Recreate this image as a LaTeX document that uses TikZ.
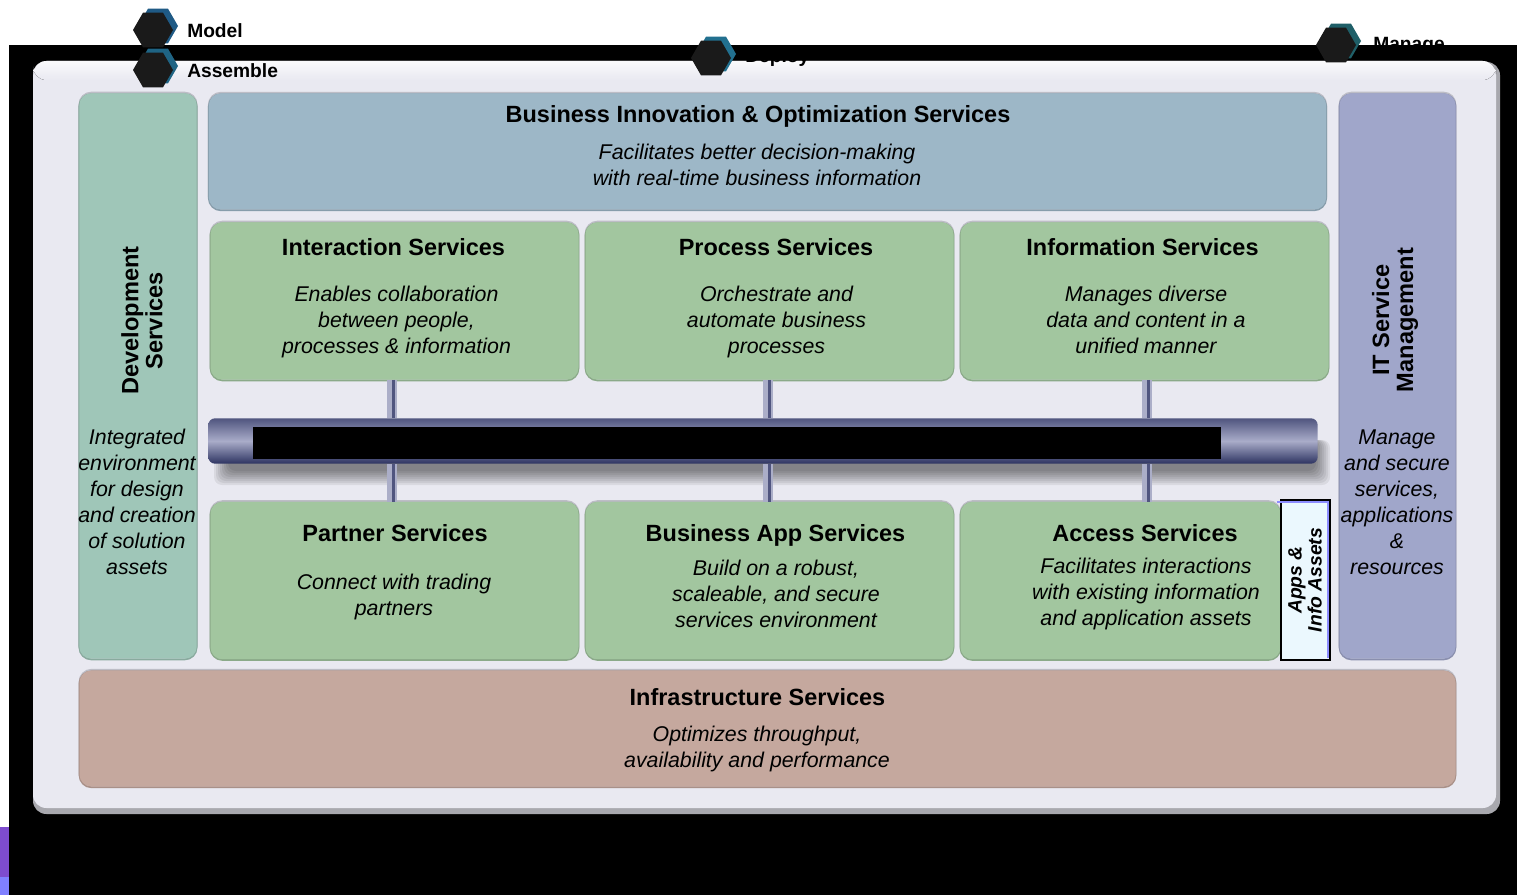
\documentclass[tikz,border=0pt]{standalone}
\usepackage{fontspec}
\setmainfont{Liberation Sans}
\usetikzlibrary{shapes.geometric}
\definecolor{panelfill}{HTML}{E9E9F1}
\definecolor{paneledge}{HTML}{A8A8AE}
\definecolor{boxedge}{HTML}{BDBDC6}
\definecolor{devfill}{HTML}{9FC6B8}
\definecolor{bizfill}{HTML}{9DB7C7}
\definecolor{itfill}{HTML}{A0A6CA}
\definecolor{svcfill}{HTML}{A2C69F}
\definecolor{infrafill}{HTML}{C5A89E}
\definecolor{hexdark}{HTML}{1A1A1A}
\definecolor{pipedark}{HTML}{50557F}
\definecolor{pipemid}{HTML}{A9ACC9}
\definecolor{pipelow}{HTML}{2D3361}
\definecolor{pipepale}{HTML}{ABAEC8}
\tikzset{
	svcbox/.style={rounded corners=9pt, inner sep=0pt, fill=#1,
		preaction={draw=boxedge, line width=1.3pt, transform canvas={yshift=0.6pt}},
		preaction={draw=#1!86!black, line width=1.3pt, transform canvas={yshift=-0.6pt}},
		minimum width=276pt, minimum height=118pt},
	svcbox/.default=svcfill,
	headtext/.style={font=\fontsize{17.6}{20}\selectfont\bfseries, inner sep=0pt, text height=15.6pt, text depth=3.6pt},
	desctext/.style={font=\fontsize{16}{19.5}\selectfont\itshape, align=center, inner sep=0pt},
	sidetext/.style={font=\fontsize{17.7}{18}\selectfont\bfseries, align=center, rotate=90, inner sep=0pt},
	hexagon/.style={regular polygon, regular polygon sides=6, minimum size=30pt, inner sep=0pt},
	hexlabel/.style={font=\fontsize{14.4}{18}\selectfont\bfseries, anchor=west, inner sep=0pt},
	pipeline/.style={line width=7pt, draw=pipepale},
	pipecore/.style={line width=2.2pt, draw=pipedark, transform canvas={xshift=0.9pt}},
}
\begin{document}
\begin{tikzpicture}[x=0.75pt, y=-0.75pt]
	\useasboundingbox (0,0) rectangle (1517,895);
	% page backdrop
	\fill[white] (0,0) rectangle (1517,895);
	\fill[black] (9,45) rectangle (1517,895);
	\fill[violet!55!blue!70!white] (0,827) rectangle (9,877);
	\fill[blue!50!white] (0,877) rectangle (9,895);

	% outer panel
	\fill[paneledge, rounded corners=10pt] (33,62) rectangle (1500,814);
	\fill[panelfill, rounded corners=10pt] (33,61) rectangle (1496,808);
	\fill[top color=white!75!panelfill, bottom color=panelfill, rounded corners=10pt] (33,61) rectangle (1496,80);

	% top labels sit over the black band
	\node[hexlabel] (modellabel) at (187,31) {Model};
	\node[hexlabel] (assemblelabel) at (187,71) {Assemble};
	\node[hexlabel] (deploylabel) at (745,58) {Deploy};
	\node[hexlabel] (managelabel) at (1373,46) {Manage};
	\foreach \hexname/\hx/\hy/\hexcol in {model/153/30/1F5A85, assemble/153/70/1F6484, deploy/711/58/22708F, manage/1336/45/1F5F68}
	{
		\definecolor{hexedge}{HTML}{\hexcol}
		\node[hexagon, fill=hexedge] (\hexname back) at (\hx+5,\hy-4) {};
		\node[hexagon, fill=hexdark] (\hexname) at (\hx,\hy) {};
	}

	% side and wide boxes
	\node[svcbox=devfill, minimum width=88pt, minimum height=424pt] (dev) at (138,376) {};
	\node[svcbox=itfill, minimum width=87pt, minimum height=424pt] (it) at (1397.5,376) {};
	\node[svcbox=bizfill, minimum width=838pt, minimum height=87pt] (biz) at (767.5,151.5) {};
	\node[svcbox=infrafill, minimum width=1032pt, minimum height=87pt] (infra) at (767.5,728.5) {};

	% green service boxes
	\node[svcbox] (interaction) at (394.5,301) {};
	\node[svcbox] (process) at (769.5,301) {};
	\node[svcbox] (information) at (1144.5,301) {};
	\node[svcbox] (partner) at (394.5,580.5) {};
	\node[svcbox] (businessapp) at (769.5,580.5) {};
	\node[svcbox, minimum width=240pt] (access) at (1120.5,580.5) {};

	% bus and its shadow
	\foreach \s in {0,2,...,14}
		\fill[black, opacity=0.065, rounded corners=6pt] (214+\s,440) rectangle (1330-\s,485-\s);
	\node[rounded corners=5pt, minimum width=832pt, minimum height=34pt, inner sep=0pt,
		top color=pipedark, bottom color=pipelow, middle color=pipemid] (bus) at (763,441) {};
	\node[fill=black, minimum width=726pt, minimum height=24pt, inner sep=0pt] (busmask) at (737,443) {};

	% stubs from the boxes to the bus
	\foreach \upper/\lower/\off in {interaction/partner/-2.5, process/businessapp/-1.5, information/access/2.5}
	{
		\coordinate (\upper stub) at ([xshift=\off*0.75pt]\upper.south);
		\draw[pipeline] (\upper stub) -- (\upper stub |- bus.north);
		\draw[pipecore] (\upper stub) -- (\upper stub |- bus.north);
		\draw[pipeline] (\upper stub |- bus.south) -- (\upper stub |- partner.north);
		\draw[pipecore] (\upper stub |- bus.south) -- (\upper stub |- partner.north);
	}

	% assets tab
	\node[fill=white!92!cyan, draw=black, line width=1.5pt, inner sep=0pt, minimum width=37pt, minimum height=120pt] (assets) at (1305.5,580) {};
	\draw[blue!45!white, line width=1.2pt] ([xshift=-2.2pt,yshift=-2.2pt]assets.north west) -- ([xshift=-2.2pt,yshift=-2.2pt]assets.north east)
		-- ([xshift=-2.2pt,yshift=2.2pt]assets.south east);

	% headings
	\node[headtext] (bizhead) at (758,115) {Business Innovation \& Optimization Services};
	\node[headtext] (interactionhead) at (393.5,247) {Interaction Services};
	\node[headtext] (processhead) at (776,247) {Process Services};
	\node[headtext] (informationhead) at (1142.5,247) {Information Services};
	\node[headtext] (partnerhead) at (395,533) {Partner Services};
	\node[headtext] (businessapphead) at (775.5,533) {Business App Services};
	\node[headtext] (accesshead) at (1145,533) {Access Services};
	\node[headtext] (infrahead) at (757.5,697) {Infrastructure Services};

	% descriptions
	\node[desctext] (bizdesc) at (757,165) {Facilitates better decision-making\\with real-time business information};
	\node[desctext] (interactiondesc) at (396.5,322) {Enables collaboration\\between people,\\processes \& information};
	\node[desctext] (processdesc) at (776.5,322) {Orchestrate and\\automate business\\processes};
	\node[desctext] (informationdesc) at (1146,320) {Manages diverse\\data and content in a\\unified manner};
	\node[desctext] (partnerdesc) at (394,597) {Connect with trading\\partners};
	\node[desctext] (businessappdesc) at (776,594) {Build on a robust,\\scaleable, and secure\\services environment};
	\node[desctext] (accessdesc) at (1146,594) {Facilitates interactions\\with existing information\\and application assets};
	\node[desctext] (infradesc) at (757,749) {Optimizes throughput,\\availability and performance};

	% side columns
	\node[sidetext] (devhead) at (142,320.5) {Development\\Services};
	\node[sidetext] (ithead) at (1395,320) {IT Service\\Management};
	\node[desctext] (devdesc) at (137,502) {Integrated\\environment\\for design\\and creation\\of solution\\assets};
	\node[desctext] (itdesc) at (1397,502) {Manage\\and secure\\services,\\applications\\\&\\resources};
	\node[sidetext, font=\fontsize{14.5}{15}\selectfont\bfseries\itshape] (assetstext) at (1305,580) {Apps \&\\Info Assets};
\end{tikzpicture}
\end{document}
